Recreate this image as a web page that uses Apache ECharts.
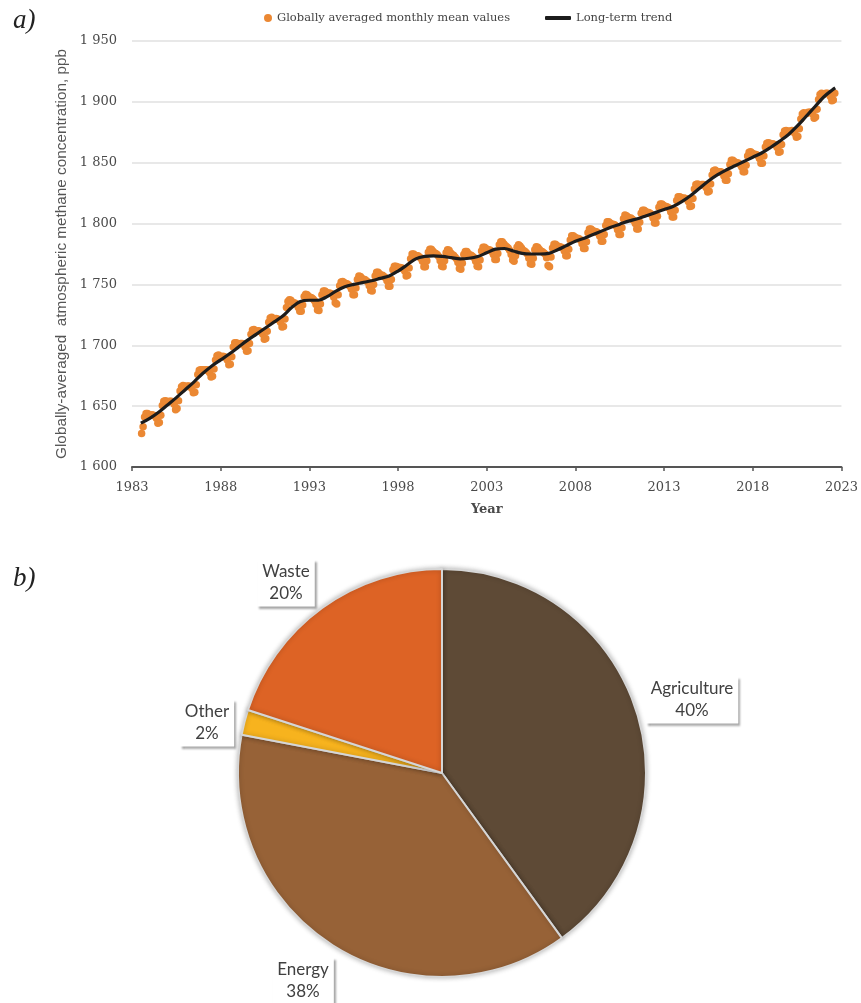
<!DOCTYPE html>
<html>
<head>
<meta charset="utf-8">
<script src="https://cdn.jsdelivr.net/npm/echarts@6/dist/echarts.min.js"></script>
<style>html,body{margin:0;padding:0;background:#fff}#c{width:861px;height:1003px}</style>
</head>
<body>
<div id="c"></div>
<script>
// ---- Panel a) data: globally averaged monthly mean CH4 (ppb), first value = July 1983 ----
const monthly1983to1989 = [
  1627.5, 1633, 1641, 1644, 1644, 1643,
  1642.5, 1643, 1642.5, 1642, 1640, 1636, 1636.5, 1642.5, 1650.5, 1654, 1654.5, 1654,
  1653.5, 1654, 1654, 1653.5, 1651.5, 1647, 1648, 1654.5, 1662.5, 1666, 1667, 1666.5,
  1666, 1666.5, 1666.5, 1666, 1664.5, 1661, 1661.5, 1667.5, 1676, 1679.5, 1680, 1680,
  1679.5, 1680, 1680, 1679.5, 1677.5, 1674, 1674.5, 1680.5, 1688, 1691.5, 1692, 1691,
  1690.5, 1691, 1690.5, 1690, 1688, 1684, 1684.5, 1690.5, 1698.5, 1702, 1702, 1701.5,
  1701, 1701.5, 1701.5, 1701, 1698.5, 1695, 1695.5, 1701.5, 1709, 1712.5, 1713, 1712
];
const monthly1990s = [
  1711.5, 1712, 1711.5, 1711, 1709, 1705, 1705.5, 1711.5, 1719, 1722.5, 1723, 1722,
  1721.5, 1722, 1721.5, 1721, 1719, 1715, 1715.5, 1721.5, 1731, 1736, 1737.5, 1737,
  1735, 1735, 1734.5, 1733.5, 1731, 1728, 1728, 1733, 1740, 1742, 1741.5, 1740,
  1739.5, 1739, 1738, 1736.5, 1733.5, 1729, 1728.5, 1734, 1741.5, 1744.5, 1744.5, 1743.5,
  1742.5, 1743, 1742.5, 1742, 1739.5, 1735, 1734, 1741.5, 1749, 1752, 1752.5, 1751.5,
  1750.5, 1750.5, 1749.5, 1748.5, 1746, 1741.5, 1741.5, 1747, 1754, 1757, 1756.5, 1755,
  1754, 1754, 1753, 1752, 1749, 1745, 1744.5, 1750, 1757, 1760, 1760, 1758.5,
  1757.5, 1757.5, 1756.5, 1755.5, 1753, 1748.5, 1748.5, 1754, 1762, 1765, 1765, 1764.5,
  1763.5, 1764, 1763.5, 1763, 1761, 1757, 1757.5, 1763.5, 1771, 1775, 1775, 1774,
  1773.5, 1773.5, 1772.5, 1771.5, 1769, 1764.5, 1764.5, 1769.5, 1776.5, 1779, 1779, 1777.5
];
const monthly2000s = [
  1776, 1775.5, 1774.5, 1773, 1769.5, 1765, 1764.5, 1769.5, 1776, 1778.5, 1778, 1776,
  1774.5, 1774, 1772.5, 1771, 1768, 1763, 1762.5, 1767.5, 1774.5, 1777, 1777, 1775.5,
  1774, 1774, 1773, 1772, 1769, 1765, 1764.5, 1770, 1777.5, 1780.5, 1780.5, 1779.5,
  1778.5, 1778.5, 1778, 1777, 1774.5, 1770.5, 1770.5, 1775.5, 1782.5, 1785, 1785, 1783.5,
  1782, 1781, 1780, 1778, 1774.5, 1770, 1769, 1773.5, 1780.5, 1782.5, 1781.5, 1780,
  1778, 1777.5, 1776.5, 1775, 1771.5, 1767, 1766.5, 1771.5, 1778.5, 1781, 1780.5, 1779,
  1777.5, 1777, 1776, 1775, 1772, 1765.5, 1764.5, 1772.5, 1780, 1783, 1783, 1782,
  1781, 1781, 1780.5, 1780, 1777.5, 1773.5, 1773.5, 1779, 1786.5, 1790, 1790, 1789,
  1788, 1788, 1787.5, 1786.5, 1783.5, 1779.5, 1779.5, 1785, 1792.5, 1795.5, 1795.5, 1794.5,
  1793.5, 1793.5, 1793, 1792, 1789.5, 1785.5, 1785.5, 1791, 1798.5, 1801.5, 1801.5, 1800.5
];
const monthly2010s = [
  1799.5, 1799.5, 1799, 1798, 1795, 1791, 1791, 1796.5, 1804, 1807, 1806.5, 1805.5,
  1804.5, 1804.5, 1803.5, 1802.5, 1800, 1795.5, 1795.5, 1801, 1808.5, 1811, 1811, 1810,
  1809, 1809, 1808.5, 1807.5, 1804.5, 1800.5, 1800.5, 1806, 1813.5, 1816, 1816, 1815,
  1814, 1814, 1813.5, 1812.5, 1809.5, 1805.5, 1805.5, 1811, 1819, 1822, 1822, 1821.5,
  1820.5, 1821, 1820.5, 1820, 1818, 1814, 1814.5, 1820.5, 1828.5, 1832, 1832.5, 1832,
  1831.5, 1832, 1832, 1831.5, 1829.5, 1826, 1826.5, 1832.5, 1840, 1843.5, 1844, 1843,
  1842.5, 1842.5, 1842.5, 1841.5, 1839, 1835.5, 1835.5, 1841, 1848.5, 1852, 1852, 1851,
  1850, 1850, 1849.5, 1848.5, 1846.5, 1842.5, 1842.5, 1848, 1855.5, 1858.5, 1859, 1858,
  1857, 1857, 1856.5, 1856, 1853.5, 1849.5, 1849.5, 1855.5, 1863, 1866, 1866.5, 1866,
  1865, 1865.5, 1865, 1864.5, 1862.5, 1858.5, 1859, 1865, 1873, 1876, 1876.5, 1876
];
const monthly2020s = [
  1875.5, 1876, 1876.5, 1876, 1874, 1871, 1871.5, 1878, 1886, 1890, 1891, 1890.5,
  1890.5, 1891.5, 1891.5, 1891.5, 1890, 1886.5, 1887.5, 1894, 1902, 1906, 1907, 1906.5,
  1906.5, 1907, 1907, 1906.5, 1904.5, 1901, 1901.5, 1907
];
const firstYear = 1983, firstMonth = 7; // July 1983

// Long-term trend (ppb) at the given decimal years
const trendYears = [
  1983.5, 1984, 1984.5, 1985, 1985.5, 1986, 1986.5, 1987, 1987.5, 1988, 1988.5, 1989, 1989.5,
  1990, 1990.5, 1991, 1991.5, 1992, 1992.5, 1993, 1993.5, 1994, 1994.5, 1995, 1995.5,
  1996, 1996.5, 1997, 1997.5, 1998, 1998.5, 1999, 1999.5, 2000, 2000.5, 2001, 2001.5,
  2002, 2002.5, 2003, 2003.5, 2004, 2004.5, 2005, 2005.5, 2006, 2006.5, 2007, 2007.5,
  2008, 2008.5, 2009, 2009.5, 2010, 2010.5, 2011, 2011.5, 2012, 2012.5, 2013, 2013.5,
  2014, 2014.5, 2015, 2015.5, 2016, 2016.5, 2017, 2017.5, 2018, 2018.5, 2019, 2019.5,
  2020, 2020.5, 2021, 2021.5, 2022, 2022.5, 2022.65
];
const trendValues = [
  1636, 1640, 1645, 1651, 1657, 1663.5, 1670, 1677, 1683, 1688, 1693, 1698.5, 1704,
  1709, 1714, 1719, 1724, 1731, 1736, 1737, 1737, 1740, 1744.5, 1748, 1750,
  1751.5, 1753, 1755, 1757, 1761, 1766, 1771, 1773, 1773.5, 1773, 1772, 1771,
  1771.5, 1773, 1776, 1779, 1779.5, 1777.5, 1775.5, 1775, 1775, 1775.5, 1778.5, 1782,
  1785.5, 1788, 1791, 1794, 1797, 1799.5, 1802, 1804, 1806.5, 1809, 1811.5, 1814,
  1818, 1823, 1829, 1835, 1840, 1844, 1847.5, 1851, 1854.5, 1858, 1862.5, 1867.5,
  1873, 1880, 1888, 1896, 1904, 1910, 1911.5
];
const xTicks = [1983, 2023, 5];        // min, max, step
const yTicks = [1600, 1950, 50];

// ---- Panel b) data ----
const sectors = ['Agriculture', 'Energy', 'Other', 'Waste'];
const sectorShares = [40, 38, 2, 20];
const sectorColors = ['#5E4A36', '#976237', '#F7B31E', '#DD6325'];

// ---- build ----
const monthlyAll = [].concat(monthly1983to1989, monthly1990s, monthly2000s, monthly2010s, monthly2020s);
const monthlyPoints = monthlyAll.map((v, i) => [firstYear + (firstMonth - 1 + i + 0.5) / 12, v]);
const trendPoints = trendYears.map((y, i) => [y, trendValues[i]]);

const serif = 'DejaVu Serif';
const fmtSpace = v => String(v).replace(/\B(?=(\d{3})+(?!\d))/g, ' ');
const labelPos = [[692, 700], [303, 981], [207, 723], [286, 583]];

const chart = echarts.init(document.getElementById('c'), null, {renderer: 'canvas'});
chart.setOption({
  backgroundColor: '#fff',
  animation: false,
  title: [
    {text: 'a)', left: 8, top: 2, textStyle: {fontFamily: 'Liberation Serif', fontStyle: 'italic', fontWeight: 'normal', fontSize: 27, color: '#222'}},
    {text: 'b)', left: 8, top: 560, textStyle: {fontFamily: 'Liberation Serif', fontStyle: 'italic', fontWeight: 'normal', fontSize: 27, color: '#222'}}
  ],
  legend: [
    {data: ['Globally averaged monthly mean values'], left: 259, top: 7, icon: 'circle', itemWidth: 8, itemHeight: 8, itemGap: 6,
     textStyle: {fontFamily: serif, fontSize: 11.5, color: '#444'}},
    {data: ['Long-term trend'], left: 540, top: 7, icon: 'roundRect', itemWidth: 26, itemHeight: 4,
     textStyle: {fontFamily: serif, fontSize: 11.5, color: '#444'}}
  ],
  grid: {left: 132, right: 18, top: 41, bottom: 536, containLabel: false},
  xAxis: {
    type: 'value', min: xTicks[0], max: xTicks[1], interval: xTicks[2],
    name: 'Year', nameLocation: 'middle', nameGap: 36,
    nameTextStyle: {fontFamily: serif, fontSize: 13, fontWeight: 'bold', color: '#4a4a4a'},
    axisLine: {show: true, lineStyle: {color: '#555', width: 2}},
    axisTick: {show: true, length: 4, lineStyle: {color: '#555', width: 1.5}},
    axisLabel: {fontFamily: serif, fontSize: 13, color: '#4a4a4a', margin: 14, formatter: v => String(v)},
    splitLine: {show: false}
  },
  yAxis: {
    type: 'value', min: yTicks[0], max: yTicks[1], interval: yTicks[2],
    name: 'Globally-averaged  atmospheric methane concentration, ppb',
    nameLocation: 'middle', nameGap: 59, nameRotate: 90,
    nameTextStyle: {fontFamily: 'Liberation Sans', fontSize: 15.3, color: '#555'},
    axisLine: {show: false}, axisTick: {show: false},
    axisLabel: {fontFamily: serif, fontSize: 13, color: '#4a4a4a', margin: 15, formatter: fmtSpace},
    splitLine: {lineStyle: {color: '#e0e0e0', width: 1.5}}
  },
  series: [
    {
      name: 'Globally averaged monthly mean values', type: 'scatter',
      data: monthlyPoints, symbolSize: 7.5,
      itemStyle: {color: '#EB8833', opacity: 1}, z: 2
    },
    {
      name: 'Long-term trend', type: 'line', data: trendPoints,
      smooth: 0.35, showSymbol: false, symbol: 'none',
      lineStyle: {color: '#1c1c1c', width: 3.2}, itemStyle: {color: '#1c1c1c'}, z: 3
    },
    {
      type: 'pie', center: [442, 773], radius: 204,
      startAngle: 90, clockwise: true,
      data: sectors.map((n, i) => ({name: n, value: sectorShares[i], itemStyle: {color: sectorColors[i]}})),
      itemStyle: {borderColor: '#d6d6d6', borderWidth: 2, shadowBlur: 5, shadowColor: 'rgba(0,0,0,0.25)'},
      emphasis: {disabled: true},
      labelLine: {show: false},
      label: {
        show: true, position: 'outside', formatter: '{b}\n{d}%',
        fontFamily: 'Lato', fontSize: 17, color: '#404040', lineHeight: 22, align: 'center',
        backgroundColor: '#fff', padding: [2, 5, 1, 5],
        shadowColor: 'rgba(0,0,0,0.35)', shadowBlur: 2, shadowOffsetX: 2, shadowOffsetY: 2
      },
      labelLayout: p => ({x: labelPos[p.dataIndex][0], y: labelPos[p.dataIndex][1], align: 'center', verticalAlign: 'middle'})
    }
  ]
});
</script>
</body>
</html>
